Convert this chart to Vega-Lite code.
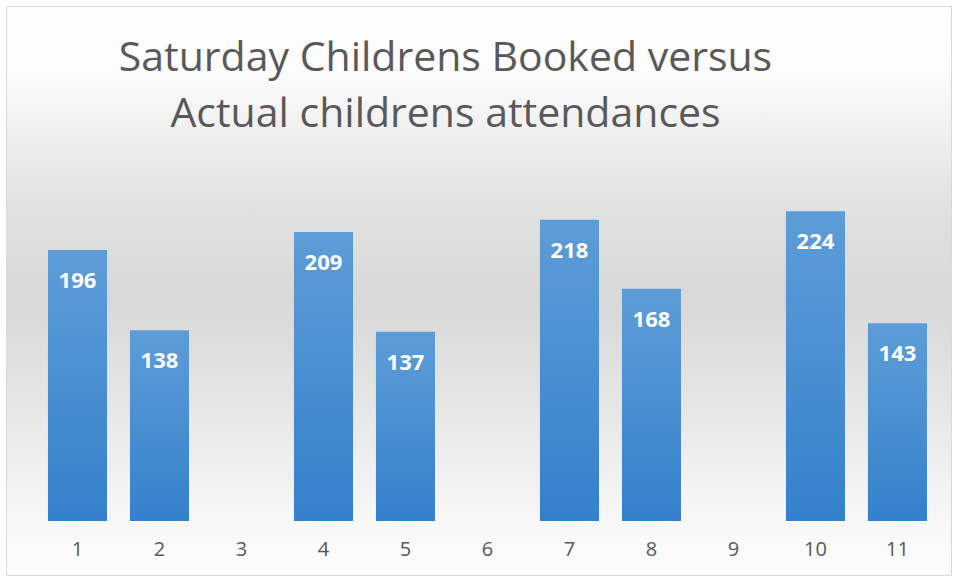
{
  "$schema": "https://vega.github.io/schema/vega-lite/v6.json",
  "width": 945,
  "height": 569,
  "autosize": "none",
  "padding": {"left": 6, "top": 6, "right": 6, "bottom": 2},
  "background": "#ffffff",
  "title": {
    "text": ["Saturday Childrens Booked versus", "Actual childrens attendances"],
    "anchor": "middle",
    "orient": "top",
    "offset": -130,
    "dx": -33,
    "font": "Open Sans",
    "fontSize": 41,
    "fontWeight": "normal",
    "color": "#595959",
    "lineHeight": 56
  },
  "data": {
    "values": [
      {"cat": "1", "value": 196},
      {"cat": "2", "value": 138},
      {"cat": "4", "value": 209},
      {"cat": "5", "value": 137},
      {"cat": "7", "value": 218},
      {"cat": "8", "value": 168},
      {"cat": "10", "value": 224},
      {"cat": "11", "value": 143}
    ]
  },
  "encoding": {
    "x": {
      "field": "cat",
      "type": "ordinal",
      "sort": null,
      "scale": {
        "domain": ["1", "2", "3", "4", "5", "6", "7", "8", "9", "10", "11"],
        "paddingInner": 0.28,
        "paddingOuter": 0.4024,
        "align": 0.636
      },
      "axis": {
        "title": null,
        "domain": false,
        "ticks": false,
        "labelAngle": 0,
        "offset": -54,
        "labelPadding": 18,
        "labelFont": "Open Sans",
        "labelFontSize": 20,
        "labelColor": "#595959"
      }
    },
    "y": {
      "field": "value",
      "type": "quantitative",
      "scale": {"domain": [-39, 372.5], "nice": false, "zero": false},
      "axis": null
    }
  },
  "layer": [
    {
      "mark": {
        "type": "bar",
        "color": {
          "gradient": "linear",
          "x1": 0, "y1": 0, "x2": 0, "y2": 1,
          "stops": [
            {"offset": 0, "color": "#5d9dd7"},
            {"offset": 1, "color": "#3481cb"}
          ]
        }
      }
    },
    {
      "mark": {
        "type": "text",
        "align": "center",
        "baseline": "alphabetic",
        "dy": 38,
        "font": "Open Sans",
        "fontSize": 22,
        "fontWeight": "bold",
        "color": "#ffffff"
      },
      "encoding": {"text": {"field": "value", "type": "quantitative"}}
    }
  ],
  "config": {
    "view": {
      "stroke": "#d9d9d9",
      "strokeWidth": 1,
      "fill": {
        "gradient": "linear",
        "x1": 0, "y1": 0, "x2": 0, "y2": 1,
        "stops": [
          {"offset": 0, "color": "#ffffff"},
          {"offset": 0.112, "color": "#fcfcfc"},
          {"offset": 0.253, "color": "#ececec"},
          {"offset": 0.341, "color": "#e2e2e2"},
          {"offset": 0.517, "color": "#d8d8d8"},
          {"offset": 0.692, "color": "#e5e5e5"},
          {"offset": 0.85, "color": "#f3f3f3"},
          {"offset": 0.94, "color": "#fafafa"},
          {"offset": 1, "color": "#fcfcfc"}
        ]
      }
    }
  }
}
